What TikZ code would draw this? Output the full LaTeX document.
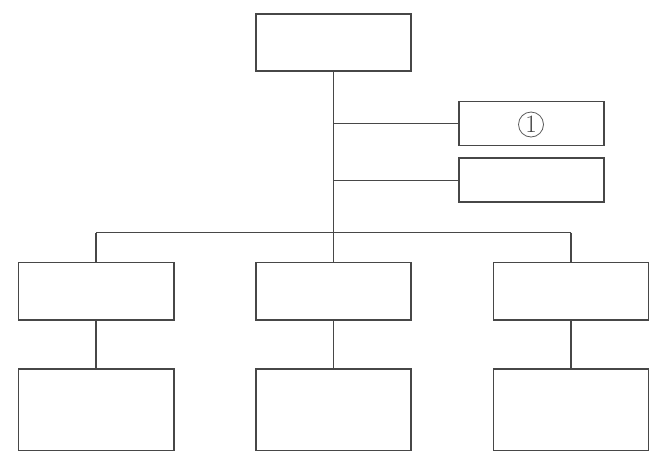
\documentclass[tikz,border=0pt]{standalone}
\begin{document}
\begin{tikzpicture}[x=1pt,y=-1pt,
  box/.style={draw=black!72, line width=1.25pt, fill=white},
  conn/.style={draw=black!72, line width=1.25pt}]
\useasboundingbox (0,0) rectangle (671,475);
% boxes
\path[box] (256,14) rectangle (411,71);
\path[box] (459,101.5) rectangle (604,145.5);
\path[box] (459,158) rectangle (604,202);
\path[box] (18.5,262.5) rectangle (174,320);
\path[box] (256,262.5) rectangle (411,320);
\path[box] (493.5,262.5) rectangle (648.5,320);
\path[box] (18.5,369) rectangle (174,450.5);
\path[box] (256,369) rectangle (411,450.5);
\path[box] (493.5,369) rectangle (648.5,450.5);
% named anchors
\coordinate (top) at (333.5,71);
\coordinate (b1) at (333.5,123.5);
\coordinate (r1) at (459,123.5);
\coordinate (b2) at (333.5,180.3);
\coordinate (r2) at (459,180.3);
\coordinate (barL) at (96,232.5);
\coordinate (barR) at (571,232.5);
\coordinate (mL) at (96,262.5);
\coordinate (mM) at (333.5,262.5);
\coordinate (mR) at (571,262.5);
\coordinate (mLb) at (96,320);
\coordinate (mMb) at (333.5,320);
\coordinate (mRb) at (571,320);
\coordinate (bL) at (96,369);
\coordinate (bM) at (333.5,369);
\coordinate (bR) at (571,369);
% connectors
\draw[conn] (top) -- (mM);
\draw[conn] (b1) -- (r1);
\draw[conn] (b2) -- (r2);
\draw[conn] (barL) -- (barR);
\draw[conn] (barL) -- (mL);
\draw[conn] (barR) -- (mR);
\draw[conn] (mLb) -- (bL);
\draw[conn] (mMb) -- (bM);
\draw[conn] (mRb) -- (bR);
% circled one
\node[circle, draw=black!65, line width=0.8pt, minimum size=25pt, inner sep=0pt,
  font=\fontsize{25}{25}\selectfont, text=black!75] (c1) at (531,124.5) {1};
\end{tikzpicture}
\end{document}
